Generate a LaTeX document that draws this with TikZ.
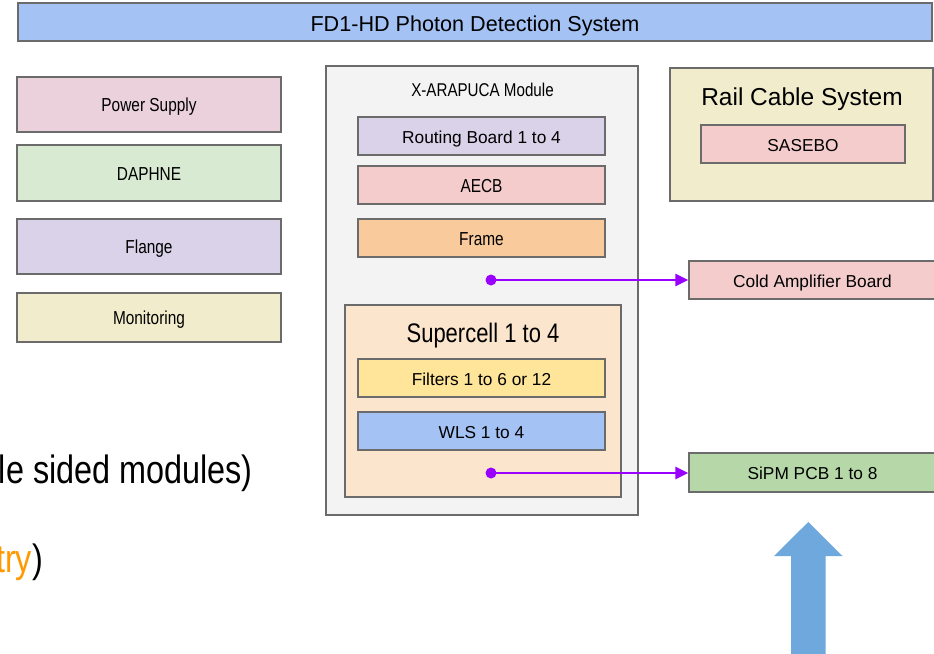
\documentclass[tikz,border=0pt]{standalone}
\usepackage{fontspec}
\setmainfont{Liberation Sans}
\newfontfamily\cond[FakeStretch=0.82]{Liberation Sans}
\usetikzlibrary{arrows.meta}
\definecolor{bordergray}{HTML}{6B6B6B}
\definecolor{cTitle}{HTML}{A4C2F4}
\definecolor{cPink}{HTML}{EAD1DC}
\definecolor{cGreen}{HTML}{D9EAD3}
\definecolor{cLilac}{HTML}{D9D2E9}
\definecolor{cBeige}{HTML}{F1EDCC}
\definecolor{cGrey}{HTML}{F3F3F3}
\definecolor{cRose}{HTML}{F4CCCC}
\definecolor{cOrange}{HTML}{F9CB9C}
\definecolor{cPeach}{HTML}{FCE5CD}
\definecolor{cYellow}{HTML}{FFE599}
\definecolor{cSipm}{HTML}{B6D7A8}
\definecolor{cPurple}{HTML}{9900FF}
\definecolor{cArrow}{HTML}{6FA8DC}
\definecolor{cText}{HTML}{FF9900}
\tikzset{
  box/.style={draw=bordergray, line width=1.4pt, inner sep=0pt, anchor=center},
  cfont/.style={font=\cond\fontsize{18.8}{22}\selectfont, text height=14pt, text depth=0pt},
  afont/.style={font=\fontsize{17.3}{20}\selectfont, text height=14pt, text depth=0pt},
  lbl/.style={inner sep=0pt, text depth=0pt},
  link/.style={draw=cPurple, line width=2.6pt, -{Triangle[length=13pt,width=12pt]}},
  dotmark/.style={fill=cPurple}
}
\begin{document}
\begin{tikzpicture}[x=1pt,y=-1pt]
\useasboundingbox (0,0) rectangle (934,653);
\clip (0,0) rectangle (934,653);
\fill[white] (0,0) rectangle (934,653);

% title
\node[box, fill=cTitle, minimum width=914pt, minimum height=38pt, font=\fontsize{21.6}{24}\selectfont, text height=18pt, text depth=0pt] (title) at (475,22) {FD1-HD Photon Detection System};

% left column
\node[box, fill=cPink, minimum width=264pt, minimum height=55pt, cfont] (ps) at (149,104.5) {Power Supply};
\node[box, fill=cGreen, minimum width=264pt, minimum height=56pt, cfont] (daphne) at (149,173) {DAPHNE};
\node[box, fill=cLilac, minimum width=264pt, minimum height=55pt, cfont] (flange) at (149,246.5) {Flange};
\node[box, fill=cBeige, minimum width=264pt, minimum height=49pt, cfont] (mon) at (149,317.5) {Monitoring};

% X-ARAPUCA module
\node[box, fill=cGrey, minimum width=312pt, minimum height=449pt] (xa) at (482,290.5) {};
\node[lbl, font=\cond\fontsize{18.5}{22}\selectfont, text height=13pt] (xalabel) at (482.5,90) {X-ARAPUCA Module};
\node[box, fill=cLilac, minimum width=247pt, minimum height=38pt, afont] (rb) at (481.5,136) {Routing Board 1 to 4};
\node[box, fill=cRose, minimum width=247pt, minimum height=38pt, cfont] (aecb) at (481.5,185) {AECB};
\node[box, fill=cOrange, minimum width=247pt, minimum height=38pt, cfont] (frame) at (481.5,238) {Frame};

% Supercell
\node[box, fill=cPeach, minimum width=276pt, minimum height=192pt] (sc) at (483,401) {};
\node[lbl, font=\cond\fontsize{26.8}{30}\selectfont, text height=19pt] (sclabel) at (483,332.8) {Supercell 1 to 4};
\node[box, fill=cYellow, minimum width=247pt, minimum height=38pt, afont] (filters) at (481.5,378) {Filters 1 to 6 or 12};
\node[box, fill=cTitle, minimum width=247pt, minimum height=38pt, afont] (wls) at (481.5,431) {WLS 1 to 4};

% Rail cable system
\node[box, fill=cBeige, minimum width=263pt, minimum height=133pt] (rcs) at (801.5,134.5) {};
\node[lbl, font=\fontsize{24.5}{28}\selectfont, text height=17.5pt] (rcslabel) at (802,97) {Rail Cable System};
\node[box, fill=cRose, minimum width=204pt, minimum height=38pt, afont] (sasebo) at (803,144) {SASEBO};

% right boxes
\node[box, fill=cRose, minimum width=247pt, minimum height=38pt, afont] (cab) at (812.5,280) {Cold Amplifier Board};
\node[box, fill=cSipm, minimum width=247pt, minimum height=39pt, afont] (sipm) at (812.5,472.5) {SiPM PCB 1 to 8};

% connectors
\coordinate (d1) at (491,280);
\coordinate (d2) at (491,473);
\fill[dotmark] (d1) circle (5.5pt);
\fill[dotmark] (d2) circle (5.5pt);
\draw[link] (d1) -- (cab.west);
\draw[link] (d2) -- (d2 -| sipm.west);

% big blue arrow
\fill[cArrow] (791,660) -- (791,556) -- (774,556) -- (808.3,522) -- (842.5,556) -- (825.5,556) -- (825.5,660) -- cycle;

% cut-off body text
\node[anchor=base east, inner sep=0pt, font=\cond\fontsize{39.5}{46}\selectfont] (t1) at (253,483) {le sided modules)};
\node[anchor=base east, inner sep=0pt, font=\cond\fontsize{39.5}{46}\selectfont] (t2) at (43,572) {\textcolor{cText}{try})};
\end{tikzpicture}
\end{document}
